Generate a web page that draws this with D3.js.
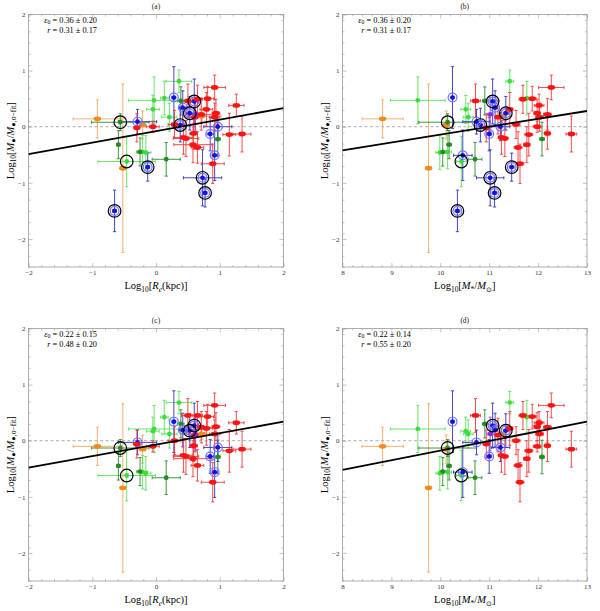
<!DOCTYPE html>
<html>
<head>
<meta charset="utf-8">
<script src="https://cdn.jsdelivr.net/npm/d3@7"></script>
<style>
	body { margin: 0; background: #fff; }
	text { font-family: "Liberation Serif", "Times New Roman", serif; }
</style>
</head>
<body>
<svg id="chart" width="600" height="611"></svg>
<script>
// One entry per galaxy, shared by all four panels.
// Panels (a),(b) use dexA, panels (c),(d) use dexC (null = not in that sample)
const group = [
	'orange', 'orange', 'orange', 'orange',
	'lime', 'lime', 'lime', 'lime', 'lime', 'lime', 'lime', 'lime',
	'dkgreen', 'dkgreen', 'dkgreen', 'dkgreen', 'dkgreen', 'dkgreen',
	'blue', 'blue', 'blue', 'blue', 'blue', 'blue', 'blue', 'blue', 'blue', 'blue', 'blue', 'blue', 'blue',
	'red', 'red', 'red', 'red', 'red', 'red', 'red', 'red', 'red', 'red', 'red',
	'red', 'red', 'red', 'red', 'red', 'red', 'red', 'red', 'red', 'red',
	'purple'
]
const logRe = [
	-0.92, -0.52, -0.21, 0.72,
	-0.03, -0.05, 0.13, 0.36, 0.21, -0.46, -0.21, -0.16,
	-0.56, -0.59, 0.16, 0.39, 0.97, -0.25,
	-0.65, -0.13, 0.38, 0.73, 0.77, 0.53, 0.60, 0.28, -0.29, 0.85, 0.97, 0.92, 0.42,
	0.92, 1.26, 1.15, 1.35, 0.65, 0.81, 0.79, 0.94, 0.71, 0.92, 0.50,
	0.43, 0.47, 0.59, 0.58, 0.65, 0.89, 0.29, -0.05, -0.30, 0.61,
	0.62
]
const logMstar = [
	8.82, 9.76, 10.12, 11.25,
	9.54, 10.52, 11.77, 11.42, 10.57, 10.43, 10.15, 9.99,
	10.15, 10.18, 10.71, 10.91, 12.08, 10.05,
	10.35, 11.46, 10.82, 11.02, 11.11, 11.34, 11.07, 10.25, 10.74, 11.00, 11.23, 10.46, 11.12,
	12.27, 12.02, 11.81, 12.68, 11.69, 11.88, 11.42, 11.98, 12.19, 12.03, 10.72,
	11.25, 11.32, 12.19, 11.77, 11.59, 11.63, 11.55, 11.98, 10.94, 11.18,
	11.02
]
const dexA = [
	0.14, -0.74, 0.03, 0.19,
	0.47, 0.31, 0.51, 0.81, 0.17, -0.62, -0.45, -0.46,
	0.08, -0.32, -0.58, 0.46, -0.22, -0.45,
	-1.50, -0.72, 0.03, -0.91, -1.18, 0.24, 0.45, 0.52, 0.09, -0.13, 0.00, -0.51, 0.34,
	0.70, 0.38, -0.14, -0.13, 0.49, 0.50, 0.31, 0.24, 0.22, 0.17, 0.46,
	-0.19, -0.21, -0.12, -0.32, -0.37, -0.66, 0.04, 0.00, -0.02, 0.17,
	0.22
]
const dexC = [
	-0.10, -0.84, -0.15, 0.12,
	0.21, 0.17, 0.42, 0.68, 0.12, -0.62, -0.56, -0.58,
	-0.13, -0.45, -0.66, 0.30, -0.29, -0.55,
	null, null, null, null, null, 0.18, 0.27, 0.34, -0.03, -0.28, -0.12, -0.56, 0.19,
	0.63, 0.32, -0.18, -0.15, 0.45, 0.43, 0.22, 0.25, 0.24, 0.12, 0.45,
	-0.26, -0.28, -0.09, -0.32, -0.44, -0.74, 0.00, -0.10, -0.06, 0.10,
	0.12
]
const errRe = [
	0.38, 0.03, 0.05, 0.30,
	0.40, 0.10, 0.06, 0.20, 0.12, 0.45, 0.08, 0.08,
	0.45, 0.03, 0.22, 0.05, 0.04, 0.05,
	0.03, 0.03, 0.05, 0.30, 0.03, 0.05, 0.05, 0.03, 0.30, 0.05, 0.22, 0.04, 0.05,
	0.17, 0.12, 0.10, 0.14, 0.08, 0.10, 0.10, 0.06, 0.25, 0.08, 0.10,
	0.15, 0.20, 0.06, 0.30, 0.10, 0.18, 0.10, 0.10, 0.04, 0.10,
	0.10
]
const errM = [
	0.42, 0.03, 0.06, 0.10,
	0.56, 0.10, 0.10, 0.08, 0.10, 0.10, 0.08, 0.08,
	0.59, 0.05, 0.14, 0.05, 0.05, 0.05,
	0.05, 0.05, 0.05, 0.28, 0.05, 0.05, 0.05, 0.03, 0.28, 0.05, 0.19, 0.19, 0.05,
	0.26, 0.10, 0.08, 0.11, 0.08, 0.08, 0.06, 0.06, 0.08, 0.08, 0.10,
	0.06, 0.06, 0.05, 0.06, 0.08, 0.08, 0.08, 0.08, 0.06, 0.06,
	0.06
]
const errDex = [
	0.34, 1.50, 0.25, 0.10,
	0.42, 0.25, 0.30, 0.20, 0.25, 0.45, 0.30, 0.30,
	0.15, 0.25, 0.30, 0.25, 0.30, 0.25,
	0.37, 0.25, 0.30, 0.50, 0.25, 0.30, 0.40, 0.55, 0.22, 0.30, 0.25, 0.45, 0.30,
	0.22, 0.20, 0.38, 0.32, 0.25, 0.22, 0.30, 0.25, 0.28, 0.25, 0.30,
	0.30, 0.32, 0.28, 0.32, 0.28, 0.35, 0.25, 0.10, 0.25, 0.30,
	0.30
]
// galaxies marked with a black open circle
const circled = [9, 12, 18, 19, 20, 21, 22, 23, 24]

// best-fit lines, end points in data units
const fitA = [[-2, -0.49], [2, 0.33]]
const fitB = [[8, -0.42], [13, 0.28]]
const fitC = [[-2, -0.48], [2, 0.34]]
const fitD = [[8, -0.52], [13, 0.34]]

const epsilon = ['0.36 ± 0.20', '0.36 ± 0.20', '0.22 ± 0.15', '0.22 ± 0.14']
const slope = ['0.31 ± 0.17', '0.31 ± 0.17', '0.48 ± 0.20', '0.55 ± 0.20']

const xTicksRe = [-2, -1, 0, 1, 2]
const xTicksM = [8, 9, 10, 11, 12, 13]
const yTicks = [-2, -1, 0, 1, 2]

const colors = {
	red:     { dot: '#ff1212', bar: '#ee3b3b' },
	orange:  { dot: '#f28a1e', bar: '#f3a860' },
	lime:    { dot: '#3ddc3d', bar: '#5ce05c' },
	dkgreen: { dot: '#1e8e1e', bar: '#2c8a2c' },
	blue:    { dot: '#1212e6', bar: '#3232c0' },
	purple:  { dot: '#8a2be2', bar: '#9a50c8' }
}

const svg = d3.select('#chart')
const panelH = 252.5
const lefts = [28.5, 342.5], widths = [255, 244.5], tops = [14.5, 328.5]

const panels = [
	{ tag: '(a)', col: 0, row: 0, xs: logRe, xe: errRe, ys: dexA, dom: [-2, 2], ticks: xTicksRe, fit: fitA, k: 0 },
	{ tag: '(b)', col: 1, row: 0, xs: logMstar, xe: errM, ys: dexA, dom: [8, 13], ticks: xTicksM, fit: fitB, k: 1 },
	{ tag: '(c)', col: 0, row: 1, xs: logRe, xe: errRe, ys: dexC, dom: [-2, 2], ticks: xTicksRe, fit: fitC, k: 2 },
	{ tag: '(d)', col: 1, row: 1, xs: logMstar, xe: errM, ys: dexC, dom: [8, 13], ticks: xTicksM, fit: fitD, k: 3 }
]

panels.forEach(drawPanel)

/**
 * Writes a text made of parts, some of them subscripted or italic.
 */
function rich(textSel, parts, size, drop = 0.28) {
	let shift = 0
	parts.forEach(p => {
		const target = p.sub ? size * drop : 0
		const ts = textSel.append('tspan').attr('dy', target - shift).text(p.t)
		if (p.sub) ts.attr('font-size', size * 0.7)
		if (p.it) ts.style('font-style', 'italic')
		shift = target
	})
}

function minorTicks(dom) {
	return d3.range(dom[0], dom[1] + 1e-9, 0.2).filter(v => Math.abs(v - Math.round(v)) > 1e-6)
}

function drawPanel(p) {
	const left = lefts[p.col], top = tops[p.row], panelW = widths[p.col]
	const x = d3.scaleLinear().domain(p.dom).range([left, left + panelW])
	const y = d3.scaleLinear().domain([-2.5, 2]).range([top + panelH, top])
	const g = svg.append('g')
	const frameColor = '#9a9a9a'

	// frame ticks on all sides, pointing in
	const axes = [
		{ a: d3.axisBottom(x), t: `translate(0,${top + panelH})`, major: p.ticks, minor: minorTicks(p.dom), lab: true },
		{ a: d3.axisTop(x), t: `translate(0,${top})`, major: p.ticks, minor: minorTicks(p.dom), lab: false },
		{ a: d3.axisLeft(y), t: `translate(${left},0)`, major: yTicks, minor: minorTicks([-2.5, 2]), lab: true },
		{ a: d3.axisRight(y), t: `translate(${left + panelW},0)`, major: yTicks, minor: minorTicks([-2.5, 2]), lab: false }
	]
	axes.forEach(ax => {
		const gm = g.append('g').attr('transform', ax.t)
			.call(ax.a.tickValues(ax.major).tickSizeInner(-4).tickSizeOuter(0).tickPadding(3)
				.tickFormat(ax.lab ? d3.format('d') : ''))
		gm.selectAll('text').attr('font-size', 7).attr('fill', '#333')
			.style('font-family', '"Liberation Serif", serif')
		const gn = g.append('g').attr('transform', ax.t)
			.call(ax.a.tickValues(ax.minor).tickSizeInner(-2).tickSizeOuter(0).tickFormat(''))
		;[gm, gn].forEach(s => {
			s.select('.domain').remove()
			s.selectAll('line').attr('stroke', frameColor).attr('stroke-width', 0.6)
		})
	})
	g.append('rect')
		.attr('x', left).attr('y', top).attr('width', panelW).attr('height', panelH)
		.attr('fill', 'none').attr('stroke', frameColor).attr('stroke-width', 0.8)

	// zero line
	g.append('line')
		.attr('x1', left).attr('x2', left + panelW).attr('y1', y(0)).attr('y2', y(0))
		.attr('stroke', '#888').attr('stroke-width', 0.7).attr('stroke-dasharray', '3,2.5')

	const clipId = 'clip' + p.k
	svg.append('clipPath').attr('id', clipId).append('rect')
		.attr('x', left).attr('y', top).attr('width', panelW).attr('height', panelH)
	const plot = g.append('g').attr('clip-path', `url(#${clipId})`)

	const idx = d3.range(group.length).filter(i => p.ys[i] !== null)
	const cap = 1.6

	// error bars
	const eb = plot.append('g').attr('stroke-width', 0.9)
	idx.forEach(i => {
		const c = colors[group[i]].bar
		const cx = x(p.xs[i]), cy = y(p.ys[i])
		const x0 = x(p.xs[i] - p.xe[i]), x1 = x(p.xs[i] + p.xe[i])
		const y0 = y(p.ys[i] - errDex[i]), y1 = y(p.ys[i] + errDex[i])
		const b = eb.append('g').attr('stroke', c)
		b.append('line').attr('x1', x0).attr('x2', x1).attr('y1', cy).attr('y2', cy)
		b.append('line').attr('x1', cx).attr('x2', cx).attr('y1', y0).attr('y2', y1)
		b.append('line').attr('x1', x0).attr('x2', x0).attr('y1', cy - cap).attr('y2', cy + cap)
		b.append('line').attr('x1', x1).attr('x2', x1).attr('y1', cy - cap).attr('y2', cy + cap)
		b.append('line').attr('x1', cx - cap).attr('x2', cx + cap).attr('y1', y0).attr('y2', y0)
		b.append('line').attr('x1', cx - cap).attr('x2', cx + cap).attr('y1', y1).attr('y2', y1)
	})

	// markers
	idx.forEach(i => {
		const gr = group[i], c = colors[gr].dot
		const cx = x(p.xs[i]), cy = y(p.ys[i])
		if (gr === 'red' || gr === 'orange') {
			plot.append('ellipse').attr('cx', cx).attr('cy', cy).attr('rx', 3.8).attr('ry', 2.4).attr('fill', c)
		} else if (gr === 'blue') {
			plot.append('circle').attr('cx', cx).attr('cy', cy).attr('r', 4.4)
				.attr('fill', 'none').attr('stroke', '#7272ff').attr('stroke-width', 1.2)
			plot.append('circle').attr('cx', cx).attr('cy', cy).attr('r', 2.4).attr('fill', c)
		} else {
			plot.append('circle').attr('cx', cx).attr('cy', cy).attr('r', 2.4).attr('fill', c)
		}
	})

	// fit line
	plot.append('path').datum(p.fit)
		.attr('fill', 'none').attr('stroke', '#000').attr('stroke-width', 1.8)
		.attr('d', d3.line().x(d => x(d[0])).y(d => y(d[1])))

	// black open circles
	idx.filter(i => circled.includes(i)).forEach(i => {
		plot.append('circle').attr('cx', x(p.xs[i])).attr('cy', y(p.ys[i])).attr('r', 6.3)
			.attr('fill', 'none').attr('stroke', '#000').attr('stroke-width', 1.2)
	})

	// panel tag
	g.append('text').attr('x', left + panelW / 2).attr('y', top - 6)
		.attr('text-anchor', 'middle').attr('font-size', 7.5).attr('fill', '#222').text(p.tag)

	// fit statistics
	const fsStat = 8.3
	const s1 = g.append('text').attr('x', left + 68.5).attr('y', top + 8)
		.attr('text-anchor', 'end').attr('font-size', fsStat)
	rich(s1, [{ t: 'ε', it: true }, { t: '0', sub: true }, { t: ' = ' + epsilon[p.k] }], fsStat, 0.18)
	const s2 = g.append('text').attr('x', left + 68.5).attr('y', top + 18.2)
		.attr('text-anchor', 'end').attr('font-size', fsStat)
	rich(s2, [{ t: 'r', it: true }, { t: ' = ' + slope[p.k] }], fsStat)

	// axis labels
	const fs = 10.5
	const xl = g.append('text').attr('x', left + panelW / 2).attr('y', top + panelH + 22)
		.attr('text-anchor', 'middle').attr('font-size', fs)
	if (p.col === 0) {
		rich(xl, [{ t: 'Log' }, { t: '10', sub: true }, { t: '[' }, { t: 'R', it: true },
			{ t: 'e', sub: true, it: true }, { t: '(kpc)]' }], fs)
	} else {
		rich(xl, [{ t: 'Log' }, { t: '10', sub: true }, { t: '[' }, { t: 'M', it: true },
			{ t: '*', sub: true }, { t: '/' }, { t: 'M', it: true }, { t: '⊙', sub: true }, { t: ']' }], fs)
	}
	const yl = g.append('text')
		.attr('transform', `translate(${left - 15},${top + panelH / 2}) rotate(-90)`)
		.attr('text-anchor', 'middle').attr('font-size', fs)
	rich(yl, [{ t: 'Log' }, { t: '10', sub: true }, { t: '[' }, { t: 'M', it: true },
		{ t: '●', sub: true }, { t: '/' }, { t: 'M', it: true }, { t: '●,σ−fit', sub: true }, { t: ']' }], fs)
}
</script>
</body>
</html>
